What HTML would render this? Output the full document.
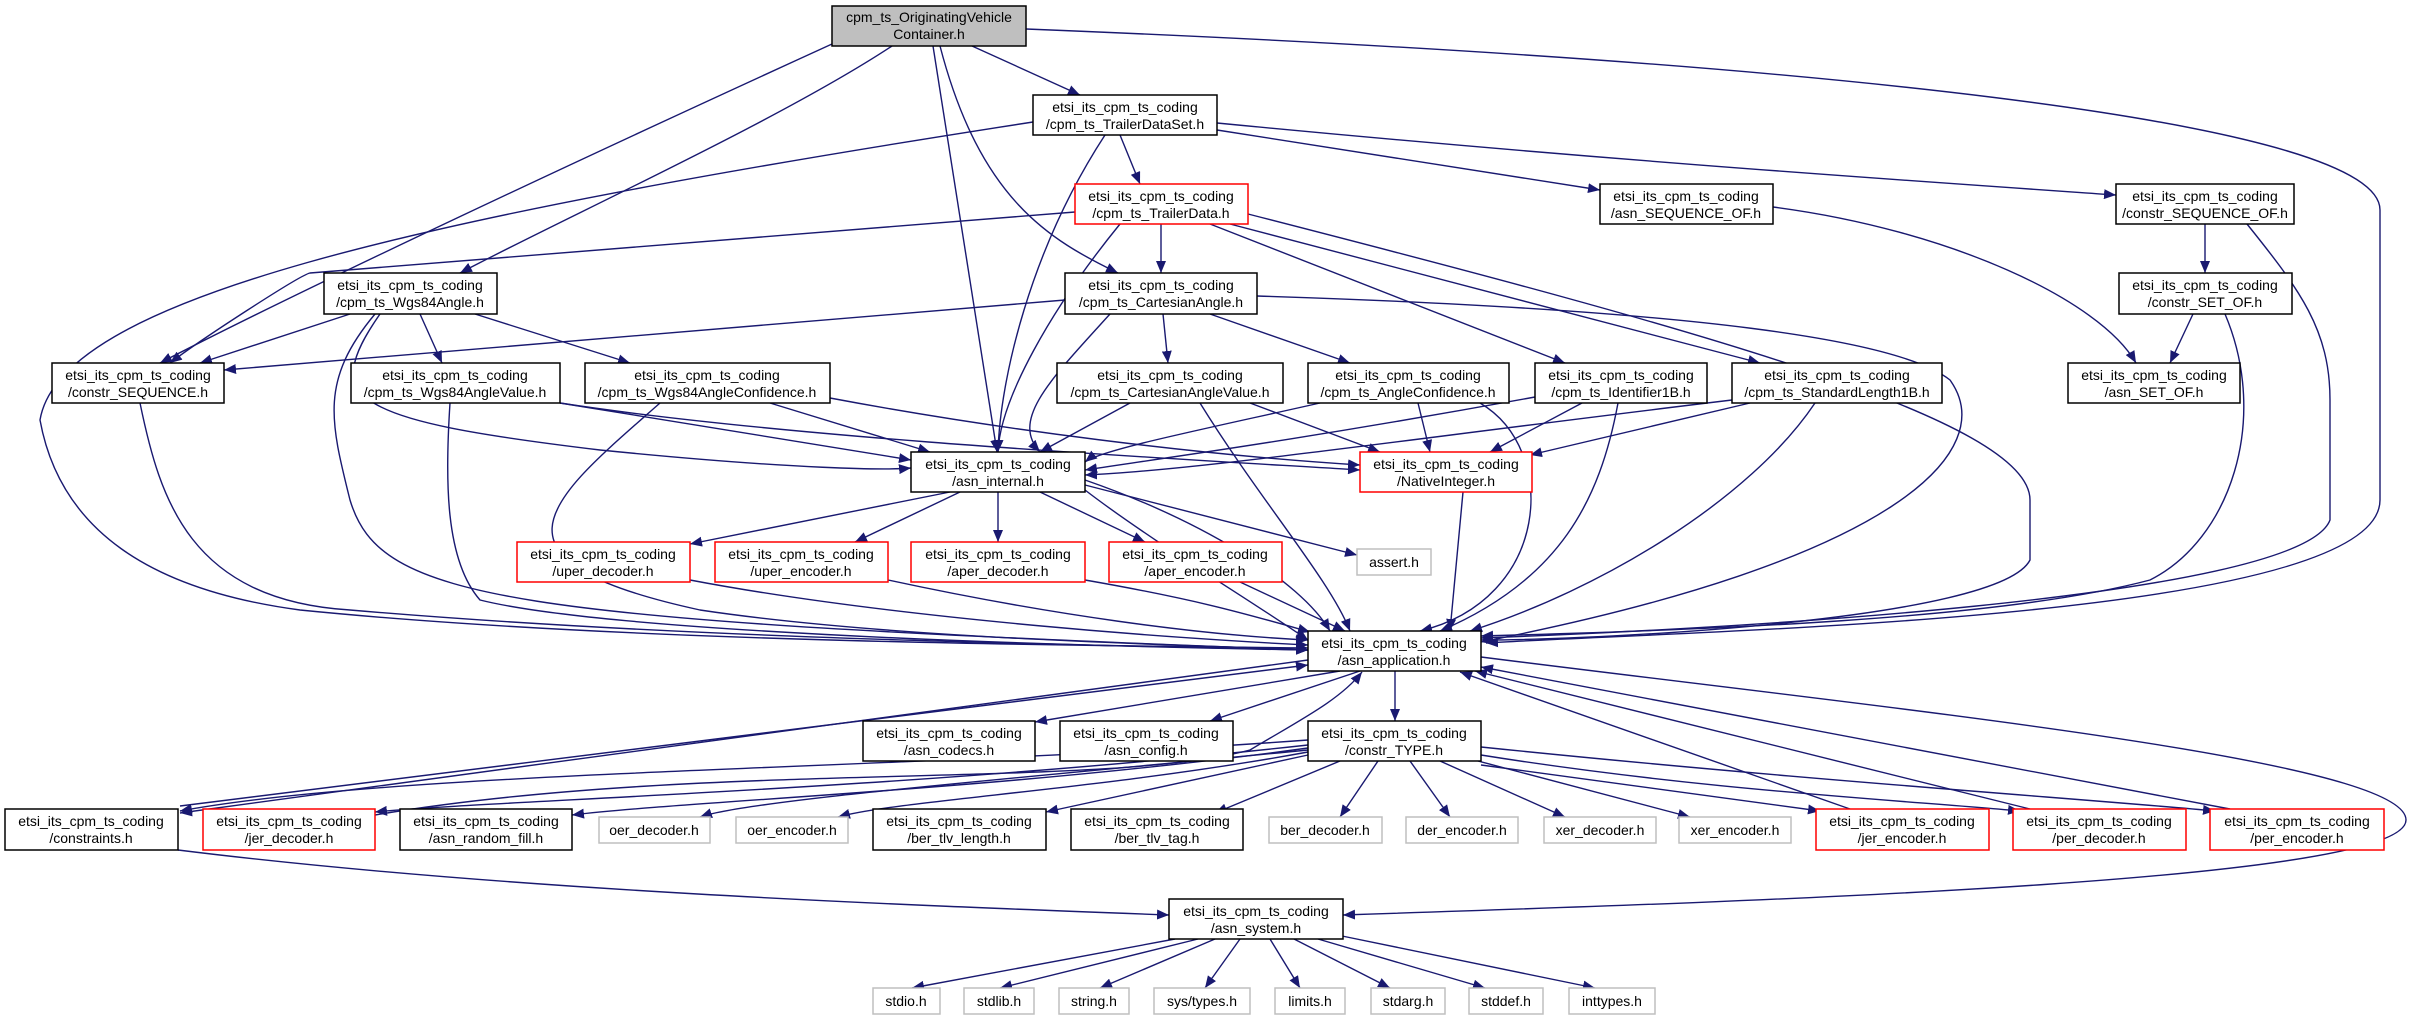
<!DOCTYPE html>
<html><head><meta charset="utf-8"><style>
html,body{margin:0;padding:0;background:#fff;}
svg{display:block;}
text{font-family:"Liberation Sans",sans-serif;font-size:14px;fill:#000;text-anchor:middle;}
.e{fill:none;stroke:#191970;stroke-width:1.4;marker-end:url(#a);}
.n{fill:#fff;stroke:#000;stroke-width:1.5;}
.r{fill:#fff;stroke:#ff0000;stroke-width:1.5;}
.g{fill:#fff;stroke:#bfbfbf;stroke-width:1.5;}
</style></head><body>
<svg width="2416" height="1020" viewBox="0 0 2416 1020" xmlns="http://www.w3.org/2000/svg">
<defs><marker id="a" markerWidth="12" markerHeight="10" refX="12" refY="5" orient="auto" markerUnits="userSpaceOnUse"><path d="M0,0 L12,5 L0,10 z" fill="#191970"/></marker></defs>
<g>
<path class="e" d="M972,46 L1080,95"/>
<path class="e" d="M892,46 C780,120 560,220 460,273"/>
<path class="e" d="M832,44 C600,150 300,290 160,363"/>
<path class="e" d="M933,46 L997,452"/>
<path class="e" d="M940,46 C980,200 1050,240 1118,273"/>
<path class="e" d="M1026,29 C1800,60 2380,120 2380,210 L2380,500 C2380,620 1700,630 1486,643"/>
<path class="e" d="M1120,135 L1140,184"/>
<path class="e" d="M1217,130 L1600,190"/>
<path class="e" d="M1217,123 C1600,160 1900,180 2116,195"/>
<path class="e" d="M1105,135 C1030,250 1000,380 998,452"/>
<path class="e" d="M1033,122 C400,220 60,300 40,420 C60,530 150,590 300,610 C600,640 1000,645 1308,648"/>
<path class="e" d="M1161,224 L1161,273"/>
<path class="e" d="M1120,224 C1050,310 1000,400 998,452"/>
<path class="e" d="M1210,224 L1565,363"/>
<path class="e" d="M1230,224 L1760,363"/>
<path class="e" d="M1075,212 L310,273 C300,275 200,340 170,363"/>
<path class="e" d="M1248,214 C1700,330 2030,420 2030,500 L2030,560 C2000,620 1600,640 1481,640"/>
<path class="e" d="M2205,224 L2205,273"/>
<path class="e" d="M2247,224 C2300,290 2330,330 2330,400 L2330,520 C2300,600 1700,630 1481,638"/>
<path class="e" d="M1773,207 C1950,230 2100,300 2136,363"/>
<path class="e" d="M2193,314 L2170,363"/>
<path class="e" d="M2225,314 C2270,420 2230,540 2150,580 C2000,620 1700,630 1481,636"/>
<path class="e" d="M350,314 L200,363"/>
<path class="e" d="M420,314 L442,363"/>
<path class="e" d="M475,314 L630,363"/>
<path class="e" d="M380,314 C320,400 350,420 600,450 C800,470 890,470 911,468"/>
<path class="e" d="M375,314 C320,380 330,420 350,500 C380,600 500,620 1308,650"/>
<path class="e" d="M1065,300 L224,370"/>
<path class="e" d="M1163,314 L1168,363"/>
<path class="e" d="M1210,314 L1350,363"/>
<path class="e" d="M1110,314 C1050,380 1010,420 1040,452"/>
<path class="e" d="M1257,296 C1700,310 1900,340 1950,380 C2000,450 1900,560 1481,642"/>
<path class="e" d="M560,403 L911,460"/>
<path class="e" d="M560,403 C800,440 1200,460 1360,470"/>
<path class="e" d="M450,403 C445,480 445,560 480,600 C600,630 1000,645 1308,650"/>
<path class="e" d="M770,403 L930,452"/>
<path class="e" d="M830,398 C1000,430 1200,455 1360,465"/>
<path class="e" d="M660,403 C550,500 470,560 700,610 C900,640 1200,645 1308,650"/>
<path class="e" d="M1130,403 L1040,452"/>
<path class="e" d="M1250,403 L1380,452"/>
<path class="e" d="M1200,403 C1260,500 1330,580 1350,631"/>
<path class="e" d="M1320,403 C1200,430 1100,450 1085,462"/>
<path class="e" d="M1418,403 L1430,452"/>
<path class="e" d="M1480,403 C1560,450 1550,600 1420,631"/>
<path class="e" d="M1535,397 C1300,440 1150,460 1085,470"/>
<path class="e" d="M1582,403 L1490,452"/>
<path class="e" d="M1618,403 C1600,500 1560,580 1440,631"/>
<path class="e" d="M1732,400 C1400,440 1200,470 1085,475"/>
<path class="e" d="M1750,403 L1530,455"/>
<path class="e" d="M1815,403 C1750,500 1600,590 1470,631"/>
<path class="e" d="M140,403 C160,500 190,600 350,610 C700,640 1100,645 1308,650"/>
<path class="e" d="M1463,492 L1450,631"/>
<path class="e" d="M950,492 L690,544"/>
<path class="e" d="M960,492 L855,542"/>
<path class="e" d="M998,492 L998,542"/>
<path class="e" d="M1040,492 L1145,542"/>
<path class="e" d="M1085,485 L1357,555"/>
<path class="e" d="M1085,480 C1200,520 1300,580 1330,631"/>
<path class="e" d="M1085,490 C1150,540 1250,600 1308,640"/>
<path class="e" d="M690,580 C900,620 1200,640 1308,645"/>
<path class="e" d="M888,580 C1050,615 1200,635 1308,640"/>
<path class="e" d="M1085,580 C1200,600 1250,615 1310,632"/>
<path class="e" d="M1240,582 L1345,631"/>
<path class="e" d="M1340,671 L1035,722"/>
<path class="e" d="M1360,671 L1210,721"/>
<path class="e" d="M1395,671 L1395,721"/>
<path class="e" d="M1308,660 L180,813"/>
<path class="e" d="M180,806 L1308,665"/>
<path class="e" d="M1481,657 C1900,710 2406,760 2406,820 C2406,880 1800,900 1343,915"/>
<path class="e" d="M178,850 C500,890 900,905 1169,915"/>
<path class="e" d="M1308,740 C900,770 400,770 180,811"/>
<path class="e" d="M1308,745 C900,790 500,800 375,812"/>
<path class="e" d="M1308,748 C1000,790 700,800 572,815"/>
<path class="e" d="M1308,750 C1000,780 750,800 700,817"/>
<path class="e" d="M1308,752 C1100,790 900,800 838,817"/>
<path class="e" d="M1308,755 L1046,812"/>
<path class="e" d="M1340,761 L1215,813"/>
<path class="e" d="M1378,761 L1340,817"/>
<path class="e" d="M1410,761 L1450,817"/>
<path class="e" d="M1440,761 L1565,817"/>
<path class="e" d="M1478,761 L1690,817"/>
<path class="e" d="M1481,765 L1820,811"/>
<path class="e" d="M1481,755 C1700,790 1900,800 2020,811"/>
<path class="e" d="M1481,747 C1800,780 2100,800 2215,811"/>
<path class="e" d="M1850,809 L1460,672"/>
<path class="e" d="M2030,809 L1475,671"/>
<path class="e" d="M2230,809 L1481,667"/>
<path class="e" d="M375,815 C700,760 1100,790 1250,750 C1300,720 1340,700 1362,672"/>
<path class="e" d="M1175,939 L912,988"/>
<path class="e" d="M1198,939 L1000,988"/>
<path class="e" d="M1215,939 L1100,988"/>
<path class="e" d="M1240,939 L1205,988"/>
<path class="e" d="M1270,939 L1300,988"/>
<path class="e" d="M1294,939 L1390,988"/>
<path class="e" d="M1318,939 L1485,988"/>
<path class="e" d="M1342,936 L1595,988"/>
</g>
<g>
<rect x="832" y="6" width="194" height="40" fill="#bfbfbf" stroke="#000" stroke-width="1.5"/><text x="929" y="22">cpm_ts_OriginatingVehicle</text><text x="929" y="39">Container.h</text>
<rect class="n" x="1033" y="95" width="184" height="40"/><text x="1125" y="112">etsi_its_cpm_ts_coding</text><text x="1125" y="129">/cpm_ts_TrailerDataSet.h</text>
<rect class="r" x="1075" y="184" width="173" height="40"/><text x="1161" y="201">etsi_its_cpm_ts_coding</text><text x="1161" y="218">/cpm_ts_TrailerData.h</text>
<rect class="n" x="1600" y="184" width="173" height="40"/><text x="1686" y="201">etsi_its_cpm_ts_coding</text><text x="1686" y="218">/asn_SEQUENCE_OF.h</text>
<rect class="n" x="2116" y="184" width="178" height="40"/><text x="2205" y="201">etsi_its_cpm_ts_coding</text><text x="2205" y="218">/constr_SEQUENCE_OF.h</text>
<rect class="n" x="324" y="273" width="173" height="41"/><text x="410" y="290">etsi_its_cpm_ts_coding</text><text x="410" y="307">/cpm_ts_Wgs84Angle.h</text>
<rect class="n" x="1065" y="273" width="192" height="41"/><text x="1161" y="290">etsi_its_cpm_ts_coding</text><text x="1161" y="307">/cpm_ts_CartesianAngle.h</text>
<rect class="n" x="2119" y="273" width="173" height="41"/><text x="2205" y="290">etsi_its_cpm_ts_coding</text><text x="2205" y="307">/constr_SET_OF.h</text>
<rect class="n" x="52" y="363" width="172" height="40"/><text x="138" y="380">etsi_its_cpm_ts_coding</text><text x="138" y="397">/constr_SEQUENCE.h</text>
<rect class="n" x="351" y="363" width="209" height="40"/><text x="455" y="380">etsi_its_cpm_ts_coding</text><text x="455" y="397">/cpm_ts_Wgs84AngleValue.h</text>
<rect class="n" x="585" y="363" width="245" height="40"/><text x="707" y="380">etsi_its_cpm_ts_coding</text><text x="707" y="397">/cpm_ts_Wgs84AngleConfidence.h</text>
<rect class="n" x="1057" y="363" width="226" height="40"/><text x="1170" y="380">etsi_its_cpm_ts_coding</text><text x="1170" y="397">/cpm_ts_CartesianAngleValue.h</text>
<rect class="n" x="1308" y="363" width="201" height="40"/><text x="1408" y="380">etsi_its_cpm_ts_coding</text><text x="1408" y="397">/cpm_ts_AngleConfidence.h</text>
<rect class="n" x="1535" y="363" width="172" height="40"/><text x="1621" y="380">etsi_its_cpm_ts_coding</text><text x="1621" y="397">/cpm_ts_Identifier1B.h</text>
<rect class="n" x="1732" y="363" width="210" height="40"/><text x="1837" y="380">etsi_its_cpm_ts_coding</text><text x="1837" y="397">/cpm_ts_StandardLength1B.h</text>
<rect class="n" x="2068" y="363" width="172" height="40"/><text x="2154" y="380">etsi_its_cpm_ts_coding</text><text x="2154" y="397">/asn_SET_OF.h</text>
<rect class="n" x="911" y="452" width="174" height="40"/><text x="998" y="469">etsi_its_cpm_ts_coding</text><text x="998" y="486">/asn_internal.h</text>
<rect class="r" x="1360" y="452" width="172" height="40"/><text x="1446" y="469">etsi_its_cpm_ts_coding</text><text x="1446" y="486">/NativeInteger.h</text>
<rect class="r" x="517" y="542" width="173" height="40"/><text x="603" y="559">etsi_its_cpm_ts_coding</text><text x="603" y="576">/uper_decoder.h</text>
<rect class="r" x="715" y="542" width="173" height="40"/><text x="801" y="559">etsi_its_cpm_ts_coding</text><text x="801" y="576">/uper_encoder.h</text>
<rect class="r" x="911" y="542" width="174" height="40"/><text x="998" y="559">etsi_its_cpm_ts_coding</text><text x="998" y="576">/aper_decoder.h</text>
<rect class="r" x="1109" y="542" width="173" height="40"/><text x="1195" y="559">etsi_its_cpm_ts_coding</text><text x="1195" y="576">/aper_encoder.h</text>
<rect class="g" x="1357" y="549" width="74" height="26"/><text x="1394" y="567">assert.h</text>
<rect class="n" x="1308" y="631" width="173" height="40"/><text x="1394" y="648">etsi_its_cpm_ts_coding</text><text x="1394" y="665">/asn_application.h</text>
<rect class="n" x="863" y="721" width="172" height="40"/><text x="949" y="738">etsi_its_cpm_ts_coding</text><text x="949" y="755">/asn_codecs.h</text>
<rect class="n" x="1060" y="721" width="173" height="40"/><text x="1146" y="738">etsi_its_cpm_ts_coding</text><text x="1146" y="755">/asn_config.h</text>
<rect class="n" x="1308" y="721" width="173" height="40"/><text x="1394" y="738">etsi_its_cpm_ts_coding</text><text x="1394" y="755">/constr_TYPE.h</text>
<rect class="n" x="5" y="809" width="173" height="41"/><text x="91" y="826">etsi_its_cpm_ts_coding</text><text x="91" y="843">/constraints.h</text>
<rect class="r" x="203" y="809" width="172" height="41"/><text x="289" y="826">etsi_its_cpm_ts_coding</text><text x="289" y="843">/jer_decoder.h</text>
<rect class="n" x="400" y="809" width="172" height="41"/><text x="486" y="826">etsi_its_cpm_ts_coding</text><text x="486" y="843">/asn_random_fill.h</text>
<rect class="g" x="599" y="817" width="111" height="26"/><text x="654" y="835">oer_decoder.h</text>
<rect class="g" x="736" y="817" width="112" height="26"/><text x="792" y="835">oer_encoder.h</text>
<rect class="n" x="873" y="809" width="173" height="41"/><text x="959" y="826">etsi_its_cpm_ts_coding</text><text x="959" y="843">/ber_tlv_length.h</text>
<rect class="n" x="1071" y="809" width="172" height="41"/><text x="1157" y="826">etsi_its_cpm_ts_coding</text><text x="1157" y="843">/ber_tlv_tag.h</text>
<rect class="g" x="1269" y="817" width="113" height="26"/><text x="1325" y="835">ber_decoder.h</text>
<rect class="g" x="1406" y="817" width="112" height="26"/><text x="1462" y="835">der_encoder.h</text>
<rect class="g" x="1544" y="817" width="112" height="26"/><text x="1600" y="835">xer_decoder.h</text>
<rect class="g" x="1679" y="817" width="112" height="26"/><text x="1735" y="835">xer_encoder.h</text>
<rect class="r" x="1816" y="809" width="173" height="41"/><text x="1902" y="826">etsi_its_cpm_ts_coding</text><text x="1902" y="843">/jer_encoder.h</text>
<rect class="r" x="2013" y="809" width="173" height="41"/><text x="2099" y="826">etsi_its_cpm_ts_coding</text><text x="2099" y="843">/per_decoder.h</text>
<rect class="r" x="2210" y="809" width="174" height="41"/><text x="2297" y="826">etsi_its_cpm_ts_coding</text><text x="2297" y="843">/per_encoder.h</text>
<rect class="n" x="1169" y="899" width="174" height="40"/><text x="1256" y="916">etsi_its_cpm_ts_coding</text><text x="1256" y="933">/asn_system.h</text>
<rect class="g" x="873" y="988" width="67" height="26"/><text x="906" y="1006">stdio.h</text>
<rect class="g" x="964" y="988" width="70" height="26"/><text x="999" y="1006">stdlib.h</text>
<rect class="g" x="1059" y="988" width="70" height="26"/><text x="1094" y="1006">string.h</text>
<rect class="g" x="1154" y="988" width="96" height="26"/><text x="1202" y="1006">sys/types.h</text>
<rect class="g" x="1275" y="988" width="70" height="26"/><text x="1310" y="1006">limits.h</text>
<rect class="g" x="1371" y="988" width="74" height="26"/><text x="1408" y="1006">stdarg.h</text>
<rect class="g" x="1469" y="988" width="74" height="26"/><text x="1506" y="1006">stddef.h</text>
<rect class="g" x="1569" y="988" width="86" height="26"/><text x="1612" y="1006">inttypes.h</text>
</g>
</svg>
</body></html>
